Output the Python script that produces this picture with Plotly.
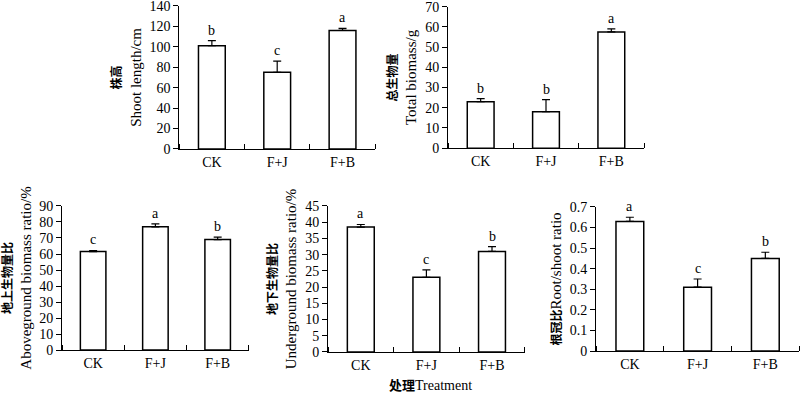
import plotly.graph_objects as go

categories = ["CK", "F+J", "F+B"]

shoot_length = [101, 75, 116]
shoot_length_err = [5, 11, 2]
shoot_length_sig = ["b", "c", "a"]

total_biomass = [23, 18, 57.5]
total_biomass_err = [1.5, 6, 1.5]
total_biomass_sig = ["b", "b", "a"]

above_ratio = [61.5, 77, 69]
above_ratio_err = [0.7, 1.8, 1.5]
above_ratio_sig = ["c", "a", "b"]

under_ratio = [38.5, 23, 31]
under_ratio_err = [0.8, 2.3, 1.5]
under_ratio_sig = ["a", "c", "b"]

root_shoot = [0.63, 0.31, 0.45]
root_shoot_err = [0.02, 0.04, 0.03]
root_shoot_sig = ["a", "c", "b"]


def zh(t, size=12):
    return f'<span style="font-size:{size}px"><b>{t}</b></span>'


panels = [
    dict(vals=shoot_length, err=shoot_length_err, sig=shoot_length_sig,
         yrange=[0, 140], dtick=20, title=zh("株高") + "<br>Shoot length/cm",
         xdom=[0.224, 0.469], ydom=[0.6228, 0.985]),
    dict(vals=total_biomass, err=total_biomass_err, sig=total_biomass_sig,
         yrange=[0, 70], dtick=10, title=zh("总生物量") + "<br>Total biomass/g",
         xdom=[0.56, 0.805], ydom=[0.625, 0.983]),
    dict(vals=above_ratio, err=above_ratio_err, sig=above_ratio_sig,
         yrange=[0, 90], dtick=10, title=zh("地上生物量比") + "<br>Aboveground biomass ratio/%",
         xdom=[0.0775, 0.311], ydom=[0.1139, 0.4785]),
    dict(vals=under_ratio, err=under_ratio_err, sig=under_ratio_sig,
         yrange=[0, 45], dtick=5, title=zh("地下生物量比") + "<br>Underground biomass ratio/%",
         xdom=[0.41, 0.656], ydom=[0.1089, 0.4785]),
    dict(vals=root_shoot, err=root_shoot_err, sig=root_shoot_sig,
         yrange=[0, 0.7], dtick=0.1, title=zh("根冠比") + "Root/shoot ratio",
         xdom=[0.745, 0.999], ydom=[0.1114, 0.476]),
]

FONT = "Liberation Serif, Noto Sans CJK SC, serif"
fig = go.Figure()
xpos = list(range(len(categories)))

for i, p in enumerate(panels, start=1):
    xa = "x" if i == 1 else f"x{i}"
    ya = "y" if i == 1 else f"y{i}"
    fig.add_trace(go.Bar(
        x=xpos, y=p["vals"], width=0.41,
        marker=dict(color="white", line=dict(color="black", width=1.5)),
        error_y=dict(type="data", array=p["err"], arrayminus=[0] * 3,
                     symmetric=False, color="black", thickness=1.2, width=4),
        xaxis=xa, yaxis=ya, showlegend=False,
    ))
    for j, s in enumerate(p["sig"]):
        fig.add_annotation(x=xpos[j], y=p["vals"][j] + p["err"][j], text=s,
                           xref=xa, yref=ya, showarrow=False, yanchor="bottom",
                           yshift=1, font=dict(family=FONT, size=14, color="black"))
    xkey = "xaxis" if i == 1 else f"xaxis{i}"
    ykey = "yaxis" if i == 1 else f"yaxis{i}"
    fig.update_layout(**{
        xkey: dict(domain=p["xdom"], anchor=ya, range=[-0.5, 2.5], automargin=False,
                   tickmode="array", tickvals=xpos, ticktext=categories,
                   ticks="", showline=True, linecolor="black", linewidth=1,
                   showgrid=False, zeroline=False, ticklabeloverflow="allow",
                   tickfont=dict(family=FONT, size=14, color="black"),
                   minor=dict(tick0=0.5, dtick=1, ticks="inside", ticklen=5,
                              tickcolor="black", showgrid=False)),
        ykey: dict(domain=p["ydom"], anchor=xa, range=p["yrange"], dtick=p["dtick"],
                   tick0=0, ticks="outside", ticklen=5, tickcolor="black",
                   automargin=False, ticklabeloverflow="allow",
                   showline=True, linecolor="black", linewidth=1,
                   showgrid=False, zeroline=False,
                   tickfont=dict(family=FONT, size=14, color="black"),
                   title=dict(text=p["title"], standoff=4,
                              font=dict(family=FONT, size=15, color="black"))),
    })

fig.add_annotation(x=0.538, y=0.0, xref="paper", yref="paper", yanchor="bottom",
                   text=zh("处理", 13) + "Treatment",
                   showarrow=False, font=dict(family=FONT, size=14, color="black"))

fig.update_layout(width=800, height=395,
                  margin=dict(l=0, r=0, t=0, b=0, autoexpand=False),
                  plot_bgcolor="white", paper_bgcolor="white", bargap=0.5)

fig.write_html("out.html", config={"displayModeBar": False},
               post_script="document.body.style.margin='0';document.body.style.overflow='hidden';")
